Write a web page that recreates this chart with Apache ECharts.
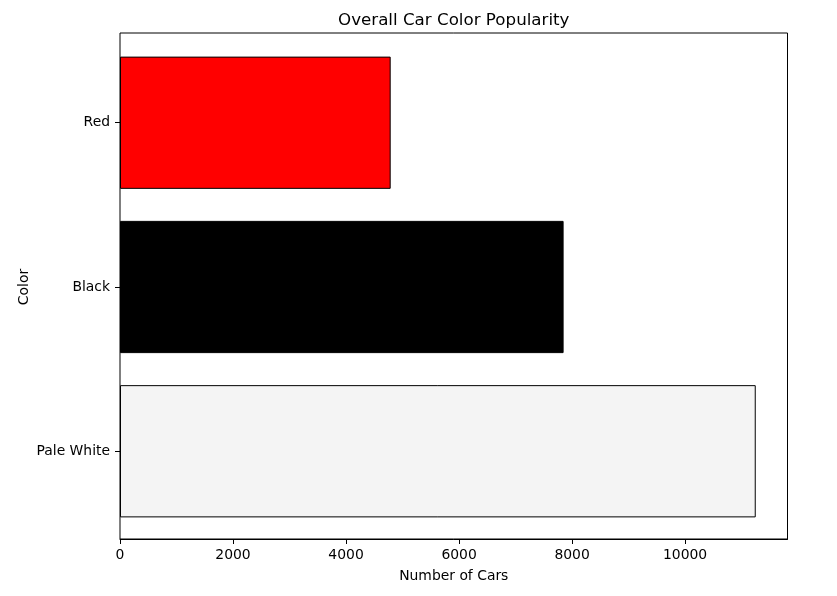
<!DOCTYPE html>
<html>
<head>
<meta charset="utf-8">
<script src="https://cdn.jsdelivr.net/npm/echarts@6/dist/echarts.min.js"></script>
<style>
  html, body { margin: 0; padding: 0; background: #fff; }
  #chart { width: 837px; height: 596px; }
</style>
</head>
<body>
<div id="chart"></div>
<script>
// 数据，从下到上
const colorNames = ['Pale White', 'Black', 'Red'];
const carCounts = [11250, 7850, 4790];
const barColors = ['#f4f4f4', '#000000', '#ff0000'];
const xTicks = [0, 2000, 4000, 6000, 8000, 10000];
const xMax = 11812;

const font = 'DejaVu Sans';
const chart = echarts.init(document.getElementById('chart'));

const option = {
    animation: false,
    backgroundColor: '#fff',
    title: {
        text: 'Overall Car Color Popularity',
        left: 453.75,
        top: 12,
        padding: 0,
        textAlign: 'center',
        textStyle: { fontFamily: font, fontSize: 16.7, fontWeight: 'normal', color: '#000' }
    },
    grid: [
        // 外框 + x轴
        { left: 120, right: 49.5, top: 33, bottom: 57, show: true, borderColor: '#000', borderWidth: 1, backgroundColor: 'transparent' },
        // 柱子区域（类目留出边距）
        { left: 120, right: 49.5, top: 40.6, bottom: 62.6 }
    ],
    xAxis: [{
        gridIndex: 0,
        type: 'value',
        min: 0,
        max: xMax,
        name: 'Number of Cars',
        nameLocation: 'middle',
        nameGap: 30,
        nameMoveOverlap: false,
        nameTextStyle: { fontFamily: font, fontSize: 13.9, color: '#000' },
        splitLine: { show: false },
        axisLine: { show: true, lineStyle: { color: '#000', width: 1 } },
        axisTick: { show: true, inside: false, length: 5, customValues: xTicks, lineStyle: { color: '#000' } },
        axisLabel: {
            customValues: xTicks,
            margin: 9,
            formatter: v => String(v),
            fontFamily: font, fontSize: 13.9, color: '#000'
        }
    }, {
        gridIndex: 1,
        type: 'value',
        min: 0,
        max: xMax,
        show: false,
        splitLine: { show: false }
    }],
    yAxis: [{
        gridIndex: 0,
        type: 'value',
        show: false,
        splitLine: { show: false }
    }, {
        gridIndex: 1,
        type: 'category',
        data: colorNames,
        name: 'Color',
        nameLocation: 'middle',
        nameGap: 89,
        nameMoveOverlap: false,
        nameTextStyle: { fontFamily: font, fontSize: 13.9, color: '#000' },
        axisLine: { show: false },
        axisTick: { show: true, alignWithLabel: true, length: 5, lineStyle: { color: '#000' } },
        axisLabel: { margin: 10, fontFamily: font, fontSize: 13.9, color: '#000' }
    }],
    series: [{
        type: 'bar',
        xAxisIndex: 1,
        yAxisIndex: 1,
        barWidth: '80.5%',
        data: carCounts.map((v, i) => ({
            value: v,
            itemStyle: { color: barColors[i], borderColor: '#000', borderWidth: 1 }
        }))
    }]
};
chart.setOption(option);
</script>
</body>
</html>
